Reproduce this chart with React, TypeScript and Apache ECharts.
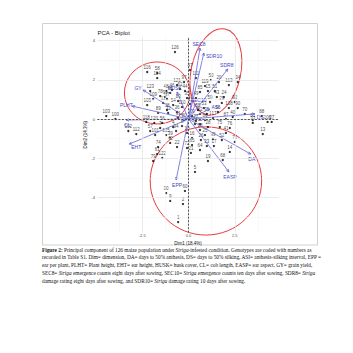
import React, { useEffect, useRef } from 'react';
import * as echarts from 'echarts';

// Genotype scores [label, Dim1, Dim2], grouped by region of the biplot
const upperLeftGenotypes: [string, number, number][] = [
  ['126', -0.73, 3.42], ['116', -2.23, 2.4], ['58', -1.69, 2.35], ['114', -1.69, 2.09], ['121', -0.62, 1.73],
  ['123', -2.07, 1.43], ['48', -1.21, 1.43], ['46', -0.89, 1.48], ['62', -0.46, 1.53], ['109', -1.91, 1.02],
  ['93', -1.26, 1.12], ['105', -2.23, 0.71], ['38', -1.16, 0.46], ['89', -1.64, 0.31], ['98', -0.99, 1.33],
  ['67', -1.16, 1.02], ['83', -0.56, 0.92], ['54', -0.83, 0.71], ['110', -0.35, 0.61], ['36', -0.62, 0.36],
  ['44', -0.19, 1.43], ['35', -0.08, 1.07], ['32', -1.1, 0.31], ['12', -1.37, 0.82], ['78', -1.53, 1.17],
  ['103', -4.44, 0.15], ['100', -3.95, 0.0],
];
const centreLeftGenotypes: [string, number, number][] = [
  ['118', -2.28, -0.15], ['120', -1.85, -0.2], ['56', -1.42, -0.2], ['102', -3.25, -0.61], ['112', -2.82, -0.77],
  ['57', -2.07, -0.61], ['101', -1.8, -0.82], ['125', -1.21, -0.82], ['94', -0.67, -0.61], ['7', -1.53, -0.46],
  ['74', -1.64, -1.43], ['61', -1.69, -1.79], ['122', -1.42, -1.99], ['79', -1.91, -2.14], ['4', -0.83, -0.41],
  ['8', -0.35, -0.36], ['10', -0.08, -0.71], ['39', -0.99, -0.97], ['22', -0.62, -1.43], ['42', -0.99, -1.22],
  ['91', -0.56, 0.05], ['80', -0.24, -0.05],
];
const upperRightGenotypes: [string, number, number][] = [
  ['50', 1.21, 1.99], ['20', 1.64, 1.89], ['34', 2.66, 1.89], ['113', 2.18, 1.73], ['119', 0.89, 1.68],
  ['15', 1.05, 1.43], ['51', 1.42, 1.43], ['43', 1.53, 1.12], ['24', 1.91, 1.12], ['29', 1.8, 0.82],
  ['92', 2.5, 0.87], ['59', 1.16, 0.87], ['90', 2.66, 0.56], ['108', 2.18, 0.56], ['47', 0.08, 2.5],
  ['111', 0.4, 2.09], ['85', 0.62, 1.38], ['49', 0.4, 1.07], ['53', 0.83, 0.56], ['55', 0.51, 0.46],
  ['66', 1.59, 0.36], ['97', -0.24, 1.89], ['31', 0.08, 0.77], ['73', 0.19, 0.15], ['82', 0.62, 0.26],
  ['95', 0.99, 0.26],
];
const rightGenotypes: [string, number, number][] = [
  ['117', 1.32, 0.05], ['87', 2.02, 0.0], ['40', 2.39, 0.1], ['70', 3.04, 0.26], ['81', 3.47, -0.05],
  ['33', 3.47, -0.2], ['88', 3.95, 0.15], ['13', 4.01, -0.77], ['106', 4.27, -0.15], ['27', 4.49, -0.15],
  ['77', 0.4, -0.1], ['86', 0.89, -0.05],
];
const lowerGenotypes: [string, number, number][] = [
  ['14', 2.23, -1.68], ['5', 0.35, -2.7], ['19', 1.05, -2.14], ['68', 1.85, -2.09], ['21', 0.13, -1.73],
  ['64', 0.62, -1.58], ['72', -0.08, -1.48], ['65', 0.19, -1.33], ['26', 0.67, -1.07], ['99', 1.32, -1.02],
  ['52', 1.8, -1.07], ['17', 1.37, -1.38], ['23', 0.99, -1.38], ['75', 1.69, -0.41], ['11', 0.62, -0.26],
  ['41', 2.02, -0.71], ['71', 2.5, -1.17], ['76', 2.23, -0.46], ['16', 0.19, -0.97], ['18', 0.62, -0.56],
  ['25', 0.89, -0.82], ['28', 1.05, -0.41], ['37', 0.35, -0.26], ['60', -0.19, -3.67], ['30', -1.21, -3.78],
  ['9', -0.99, -4.18], ['2', -0.3, -4.34], ['1', -0.56, -5.26],
];

// Variable loadings (arrow ends)
const variableNames = ['GY', 'PLHT', 'CL', 'EHT', 'EPP', 'DA', 'EASP', 'SEC8', 'SDR10', 'SDR8', 'DS', 'HUSK', 'ASI', 'SEC10'];
const variableDim1 = [-2.45, -3.04, -3.36, -3.2, -0.67, 3.36, 2.18, 0.62, 0.83, 2.12, 3.58, -0.62, 1.16, 0.4];
const variableDim2 = [1.48, 0.66, -0.05, -1.28, -3.11, -1.79, -2.7, 3.62, 3.37, 2.55, 0.26, 1.38, 0.51, 0.77];
// which side of the arrow end each variable label sits on (styling hint)
const variableLabelSide = ['out', 'out', 'below', 'right', 'below', 'below', 'below', 'above', 'right', 'above', 'right', 'out', 'out', 'out'];

// Cluster ellipses: centre (Dim1, Dim2), semi-axes (Dim units), tilt (deg)
const ellipseCentreX = [-1.69, 1.48, 0.94];
const ellipseCentreY = [1.33, 2.4, -3.16];
const ellipseRadiusX = [1.77, 1.34, 3.01];
const ellipseRadiusY = [1.58, 2.24, 2.76];
const ellipseTilt = [0, -12, 0];

const xTicks = [-2.5, 0, 2.5];
const yTicks = [-4, -2, 0, 2, 4];
const xMinor = [-3.75, -1.25, 1.25, 3.75];
const yMinor = [-5, -3, -1, 1, 3];

const captionLines = [
  '{b|Figure 2:} Principal component of 126 maize population under {i|Striga}-infested condition. Genotypes are coded with numbers as',
  'recorded in Table S1. Dim= dimension, DA= days to 50% anthesis, DS= days to 50% silking, ASI= anthesis-silking interval, EPP =',
  'ear per plant, PLHT= Plant height, EHT= ear height, HUSK= husk cover, CL= cob length, EASP= ear aspect, GY= grain yield,',
  'SEC8= {i|Striga} emergence counts eight days after sowing, SEC10= {i|Striga} emergence counts ten days after sowing, SDR8= {i|Striga}',
  'damage rating eight days after sowing, and SDR10= {i|Striga} damage rating 10 days after sowing.',
];

const BLUE_LINE = '#6262dc';
const BLUE_TEXT = '#3f3fc4';
const RED = '#e8393f';
const CAP_FONT = 5.3;

export default function App() {
  const ref = useRef<HTMLDivElement>(null);
  useEffect(() => {
    document.body.style.margin = '0';
    if (!ref.current) return;
    const chart = echarts.init(ref.current, undefined, { renderer: 'svg' });

    const genotypes = [
      ...upperLeftGenotypes, ...centreLeftGenotypes, ...upperRightGenotypes, ...rightGenotypes, ...lowerGenotypes,
    ].map((g) => [g[1], g[2], g[0]]);

    const gridLines: any[] = [
      ...xMinor.map((v) => ({ xAxis: v, lineStyle: { color: '#f2f2f2', width: 0.5, type: 'solid' } })),
      ...yMinor.map((v) => ({ yAxis: v, lineStyle: { color: '#f2f2f2', width: 0.5, type: 'solid' } })),
      ...xTicks.map((v) => ({ xAxis: v, lineStyle: { color: '#e3e3e3', width: 0.7, type: 'solid' } })),
      ...yTicks.map((v) => ({ yAxis: v, lineStyle: { color: '#e3e3e3', width: 0.7, type: 'solid' } })),
      { xAxis: 0, lineStyle: { color: '#111', width: 0.7, type: [2, 1.5] } },
      { yAxis: 0, lineStyle: { color: '#111', width: 0.7, type: [2, 1.5] } },
    ];

    const option: any = {
      animation: false,
      grid: { left: 97.4, top: 36.7, width: 181.3, height: 196, containLabel: false, outerBoundsMode: 'none' },
      xAxis: {
        type: 'value', min: -4.92, max: 4.87,
        name: 'Dim1 (18.4%)', nameLocation: 'middle', nameGap: 8, nameMoveOverlap: false,
        nameTextStyle: { fontSize: 4.5, color: '#111', fontFamily: 'Liberation Sans' },
        axisLine: { show: false },
        splitLine: { show: false },
        axisTick: { show: true, customValues: xTicks, length: 1.5, lineStyle: { color: '#555', width: 0.5 } },
        axisLabel: {
          customValues: xTicks, fontSize: 4, color: '#4d4d4d', margin: 1, fontFamily: 'Liberation Sans',
          formatter: (v: number) => v.toFixed(1),
        },
      },
      yAxis: {
        type: 'value', min: -5.8, max: 4.2,
        name: 'Dim2 (14.3%)', nameLocation: 'middle', nameGap: 9, nameMoveOverlap: false,
        nameTextStyle: { fontSize: 4.5, color: '#111', fontFamily: 'Liberation Sans' },
        axisLine: { show: false },
        splitLine: { show: false },
        axisTick: { show: true, customValues: yTicks, length: 1.5, lineStyle: { color: '#555', width: 0.5 } },
        axisLabel: {
          customValues: yTicks, fontSize: 4, color: '#4d4d4d', margin: 2.5, fontFamily: 'Liberation Sans',
          formatter: (v: number) => String(v),
        },
      },
      graphic: [
        { type: 'rect', shape: { x: 42.5, y: 23.5, width: 275, height: 221.5 }, style: { fill: 'none', stroke: '#d0d0d0', lineWidth: 1 }, z: -1 },
        { type: 'text', x: 97.5, y: 33, style: { text: 'PCA - Biplot', fontSize: 6, fill: '#222', fontFamily: 'Liberation Sans', verticalAlign: 'middle' } },
        ...captionLines.map((t, i) => ({
          type: 'text', x: 42, y: 249.5 + i * 7.9,
          style: {
            text: t, fontSize: CAP_FONT, fill: '#111', fontFamily: 'Liberation Serif', verticalAlign: 'middle',
            rich: {
              b: { fontWeight: 'bold', fontSize: CAP_FONT, fontFamily: 'Liberation Serif', fill: '#111' },
              i: { fontStyle: 'italic', fontSize: CAP_FONT, fontFamily: 'Liberation Serif', fill: '#111' },
            },
          },
        })),
      ],
      series: [
        {
          type: 'line', data: [], z: 1, silent: true,
          markLine: { silent: true, symbol: ['none', 'none'], label: { show: false }, data: gridLines },
        },
        {
          type: 'custom', z: 2, clip: false, silent: true,
          data: ellipseCentreX.map((cx, i) => [cx, ellipseCentreY[i], ellipseRadiusX[i], ellipseRadiusY[i], ellipseTilt[i]]),
          encode: { x: 0, y: 1 },
          renderItem: (params: any, api: any) => {
            const c = api.coord([api.value(0), api.value(1)]);
            const s = api.size([api.value(2), api.value(3)]);
            return {
              type: 'ellipse', x: c[0], y: c[1], rotation: (api.value(4) * Math.PI) / 180,
              shape: { cx: 0, cy: 0, rx: s[0], ry: s[1] },
              style: { fill: 'none', stroke: RED, lineWidth: 1 },
            };
          },
        },
        {
          type: 'scatter', z: 3, symbol: 'circle', symbolSize: 2.3,
          itemStyle: { color: '#000' },
          data: genotypes,
          label: {
            show: true, position: 'top', distance: 0.5, fontSize: 4.5, color: '#111', fontFamily: 'Liberation Sans',
            formatter: (p: any) => p.data[2],
          },
        },
        {
          type: 'custom', z: 4, clip: false, silent: true,
          data: variableDim1.map((x, i) => [x, variableDim2[i]]),
          encode: { x: 0, y: 1 },
          renderItem: (params: any, api: any) => {
            const o = api.coord([0, 0]);
            const e = api.coord([api.value(0), api.value(1)]);
            const ang = Math.atan2(e[1] - o[1], e[0] - o[0]);
            const h = 3;
            const a = Math.PI / 7;
            const p1 = [e[0] - h * Math.cos(ang - a), e[1] - h * Math.sin(ang - a)];
            const p2 = [e[0] - h * Math.cos(ang + a), e[1] - h * Math.sin(ang + a)];
            const side = variableLabelSide[params.dataIndex];
            let lx = e[0] + 6 * Math.cos(ang);
            let ly = e[1] + 4 * Math.sin(ang);
            let align = 'center';
            if (side === 'below') { lx = e[0] + 1; ly = e[1] + 5; }
            if (side === 'above') { lx = e[0] - 1; ly = e[1] - 4.5; }
            if (side === 'right') { lx = e[0] + 2; ly = e[1] + 3; align = 'left'; }
            return {
              type: 'group',
              children: [
                { type: 'line', shape: { x1: o[0], y1: o[1], x2: e[0], y2: e[1] }, style: { stroke: BLUE_LINE, lineWidth: 0.8 } },
                { type: 'polyline', shape: { points: [p1, e, p2] }, style: { stroke: BLUE_LINE, fill: 'none', lineWidth: 0.8 } },
                {
                  type: 'text', x: lx, y: ly,
                  style: {
                    text: variableNames[params.dataIndex], fontSize: 5, fill: BLUE_TEXT, fontFamily: 'Liberation Sans',
                    align, verticalAlign: 'middle',
                  },
                },
              ],
            };
          },
        },
      ],
    };
    chart.setOption(option);
    return () => chart.dispose();
  }, []);
  return <div ref={ref} style={{ width: 353, height: 353, background: '#fff' }} />;
}
